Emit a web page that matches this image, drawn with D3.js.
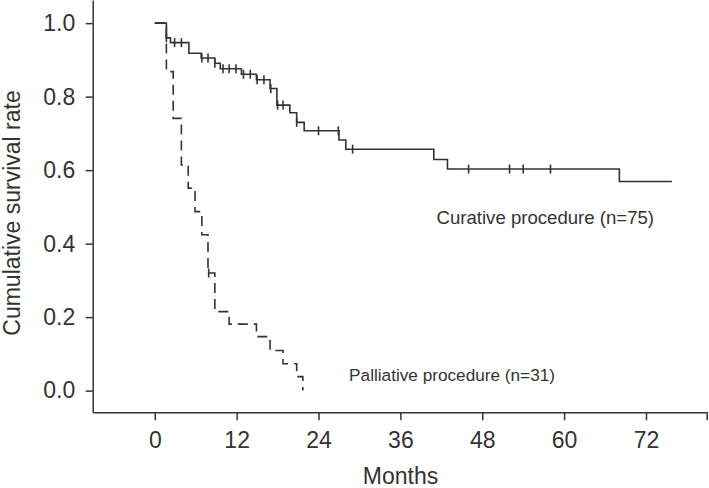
<!DOCTYPE html>
<html>
<head>
<meta charset="utf-8">
<script src="https://cdn.jsdelivr.net/npm/d3@7"></script>
<style>
  body { margin: 0; background: white; }
  text { font-family: "Liberation Sans", Arial, sans-serif; fill: #333; }
</style>
</head>
<body>
<div id="chart"></div>
<script>
// Kaplan-Meier steps: time (months) where the drop happens, survival after it
const curativeTimes = [0, 1.7, 2.3, 5.0, 6.8, 8.8, 9.6, 12.7, 14.9, 16.9, 17.9, 19.8, 20.8, 21.9, 27.0, 28.0, 40.9, 42.9, 68.1, 75.8];
const curativeSurv  = [1.0, 0.960, 0.947, 0.918, 0.905, 0.891, 0.876, 0.861, 0.846, 0.822, 0.777, 0.756, 0.730, 0.707, 0.682, 0.657, 0.629, 0.603, 0.569, 0.569];
const curativeCensor = [1.7, 2.9, 3.9, 6.9, 7.8, 8.8, 10.0, 10.9, 11.9, 13.0, 14.0, 15.0, 16.0, 17.0, 18.0, 18.8, 20.8, 24.0, 26.9, 29.0, 46.0, 52.0, 54.0, 58.0];

const palliativeTimes = [0, 1.7, 2.7, 3.9, 4.9, 5.9, 6.9, 7.8, 8.8, 10.9, 14.9, 16.9, 18.8, 20.8, 21.7];
const palliativeSurv  = [1.0, 0.868, 0.741, 0.614, 0.551, 0.487, 0.424, 0.320, 0.215, 0.181, 0.147, 0.109, 0.073, 0.038, 0.0];
const palliativeCensor = [7.9];

const xTicks = [0, 12, 24, 36, 48, 60, 72];
const yTicks = [0, 0.2, 0.4, 0.6, 0.8, 1.0];
const xMinMonths = -9.1, xMaxMonths = 80.9;

const width = 709, height = 488;

const svg = d3.select("#chart")
  .append("svg")
  .attr("width", width)
  .attr("height", height)
  .attr('style', 'background-color: white');

const x = d3.scaleLinear()
  .domain([xMinMonths, xMaxMonths])
  .range([92.7, 706.7]);

const y = d3.scaleLinear()
  .domain([-0.059, 1.063])
  .range([412.3, 0]);

// axes
const xAxis = svg.append("g")
  .attr("transform", `translate(0, ${y(-0.059)})`)
  .call(d3.axisBottom(x)
    .tickValues(xTicks.concat([xMaxMonths]))
    .tickFormat(d => xTicks.includes(d) ? d : "")
    .tickSizeInner(8)
    .tickSizeOuter(0)
    .tickPadding(11));

const yAxis = svg.append("g")
  .attr("transform", `translate(${x(xMinMonths)}, 0)`)
  .call(d3.axisLeft(y)
    .tickValues(yTicks)
    .tickFormat(d3.format(".1f"))
    .tickSizeInner(7)
    .tickSizeOuter(0)
    .tickPadding(10.5));

[xAxis, yAxis].forEach(g => {
  g.selectAll("path, line").attr("stroke", "#333").attr("stroke-width", 1.5);
  g.selectAll("text").style("font-size", "23px").style("font-family", '"Liberation Sans", Arial, sans-serif').attr("fill", "#333");
});

// survival curves
const line = d3.line()
  .x(d => x(d[0]))
  .y(d => y(d[1]))
  .curve(d3.curveStepAfter);

function stepValue(times, surv, t) {
  let v = surv[0];
  for (let i = 0; i < times.length; i++) {
    if (times[i] <= t) v = surv[i];
  }
  return v;
}

function drawCurve(times, surv, censor, dash) {
  const pts = times.map((t, i) => [t, surv[i]]);
  svg.append("path")
    .datum(pts)
    .attr("fill", "none")
    .attr("stroke", "#333")
    .attr("stroke-width", 1.6)
    .attr("stroke-dasharray", dash)
    .attr("d", line);

  svg.append("g")
    .selectAll("line")
    .data(censor)
    .join("line")
    .attr("x1", d => x(d))
    .attr("x2", d => x(d))
    .attr("y1", d => y(stepValue(times, surv, d)) - 4.5)
    .attr("y2", d => y(stepValue(times, surv, d)) + 4.5)
    .attr("stroke", "#333")
    .attr("stroke-width", 1.6);
}

drawCurve(palliativeTimes, palliativeSurv, palliativeCensor, "10,6");
drawCurve(curativeTimes, curativeSurv, curativeCensor, null);

// labels
svg.append("text")
  .attr("x", 400.5)
  .attr("y", 484)
  .attr("text-anchor", "middle")
  .style("font-size", "23px")
  .text("Months");

svg.append("text")
  .attr("transform", "translate(20, 213) rotate(-90)")
  .attr("text-anchor", "middle")
  .style("font-size", "23px")
  .text("Cumulative survival rate");

svg.append("text")
  .attr("x", 436.5)
  .attr("y", 224)
  .style("font-size", "18.6px")
  .text("Curative procedure (n=75)");

svg.append("text")
  .attr("x", 555)
  .attr("y", 380.5)
  .attr("text-anchor", "end")
  .style("font-size", "17.2px")
  .text("Palliative procedure (n=31)");
</script>
</body>
</html>
